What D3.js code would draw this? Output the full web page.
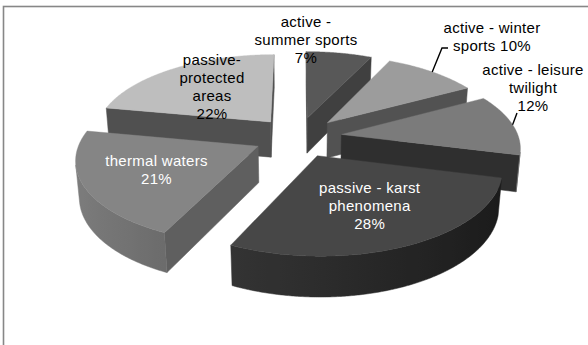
<!DOCTYPE html>
<html>
<head>
<meta charset="utf-8">
<script src="https://cdn.jsdelivr.net/npm/d3@7"></script>
<style>
  html, body { margin: 0; padding: 0; background: #fff; }
  svg { display: block; }
</style>
</head>
<body>
<svg id="chart" width="588" height="345"></svg>
<script>
// Tourism offer structure (shares in %)
const categories = [
  "active - summer sports",
  "active - winter sports",
  "active - leisure twilight",
  "passive - karst phenomena",
  "thermal waters",
  "passive-protected areas"
];
const shares = [7, 10, 12, 28, 21, 22];

// Data label lines; {p} is replaced by the share
const labelLines = [
  ["active -", "summer sports", "{p}"],
  ["active - winter", "sports {p}"],
  ["active - leisure", "twilight", "{p}"],
  ["passive - karst", "phenomena", "{p}"],
  ["thermal waters", "{p}"],
  ["passive-", "protected", "areas", "{p}"]
];

// Slice styling
const topFill   = ["#585858", "#9c9c9c", "#7b7b7b", "#474747", "#858585", "#bebebe"];
const wallFill  = ["#404040", "#525252", "#2f2f2f", "#2a2a2a", "#5f5f5f", "#505050"];
const rimLight  = ["#4a4a4a", "#8a8a8a", "#747474", "#3e3e3e", "#7e7e7e", "#9a9a9a"];
const rimDark   = ["#3a3a3a", "#6a6a6a", "#6c6c6c", "#1a1a1a", "#3f3f3f", "#7a7a7a"];
const textFill  = ["#000", "#000", "#000", "#fff", "#fff", "#000"];
// label placement: null = inside the slice, otherwise [x, y of first line]
const labelPlace = [[306, 22], [492, 28], [533, 70], null, null, [212, 60]];

// 3-D view
const view = { cx: 298, cy: 137, radius: 177, explode: 44, height: 41, tilt: 27.1, eye: 1127 };
const sinT = Math.sin(view.tilt * Math.PI / 180);
const cosT = Math.cos(view.tilt * Math.PI / 180);
const camera = [0, view.eye * sinT, -view.eye * cosT];

// world: X right, Y up, Z away from the viewer
function project(X, Y, Z) {
  const g = view.eye / (view.eye + Z * cosT - Y * sinT);
  return [view.cx + X * g, view.cy - (Z * sinT + Y * cosT) * g];
}
function facing(n, p) {
  return n[0] * (camera[0] - p[0]) + n[1] * (camera[1] - p[1]) + n[2] * (camera[2] - p[2]) > 0;
}

const svg = d3.select("#chart");
const defs = svg.append("defs");
const font = "'Liberation Sans', Arial, sans-serif";

svg.append("rect")
  .attr("x", 3.5).attr("y", 6.5)
  .attr("width", 640).attr("height", 420)
  .attr("fill", "#fff")
  .attr("stroke", "#878787")
  .attr("stroke-width", 1.6);

const pie = d3.pie().sort(null).value(d => d).startAngle(0).endAngle(2 * Math.PI);
const slices = pie(shares).map((a, i) => {
  const m = (a.startAngle + a.endAngle) / 2;
  return { i, a0: a.startAngle, a1: a.endAngle, m,
           ox: view.explode * Math.sin(m), oz: view.explode * Math.cos(m) };
});

function world(s, ang, r, Y) {
  return [s.ox + r * Math.sin(ang), Y, s.oz + r * Math.cos(ang)];
}
function pt(s, ang, r, Y) {
  const w = world(s, ang, r, Y);
  return project(w[0], w[1], w[2]);
}

const line = d3.line();
const R = view.radius, H = view.height;
const step = Math.PI / 360;

// back to front
const order = slices.slice().sort((p, q) => (q.oz + 0.5 * R * Math.cos(q.m)) - (p.oz + 0.5 * R * Math.cos(p.m)));
const gPie = svg.append("g");

order.forEach(s => {
  const g = gPie.append("g");
  // radial walls
  [[s.a0, s.a0 - Math.PI / 2], [s.a1, s.a1 + Math.PI / 2]].forEach(([ang, nAng]) => {
    const n = [Math.sin(nAng), 0, Math.cos(nAng)];
    const mid = world(s, ang, R / 2, -H / 2);
    if (!facing(n, mid)) return;
    const poly = [pt(s, 0, 0, 0), pt(s, ang, R, 0), pt(s, ang, R, -H), pt(s, 0, 0, -H)];
    g.append("path").attr("d", line(poly) + "Z")
      .attr("fill", wallFill[s.i]).attr("stroke", wallFill[s.i]).attr("stroke-width", 0.5);
  });

  // outer rim: contiguous runs of camera-facing angles, shaded with a gradient
  const nSeg = Math.max(2, Math.ceil((s.a1 - s.a0) / step));
  const da = (s.a1 - s.a0) / nSeg;
  const runs = [];
  let cur = null;
  for (let k = 0; k < nSeg; k++) {
    const bm = s.a0 + (k + 0.5) * da;
    const ok = facing([Math.sin(bm), 0, Math.cos(bm)], world(s, bm, R, -H / 2));
    if (ok) {
      if (!cur) { cur = [s.a0 + k * da]; runs.push(cur); }
      cur.push(s.a0 + (k + 1) * da);
    } else cur = null;
  }
  const shade = d3.interpolateRgb(rimLight[s.i], rimDark[s.i]);
  runs.forEach((angs, j) => {
    const topPts = angs.map(a => pt(s, a, R, 0));
    const botPts = angs.map(a => pt(s, a, R, -H)).reverse();
    const xs = topPts.map(p => p[0]);
    const x1 = xs[0], x2 = xs[xs.length - 1];
    let fill;
    if (Math.abs(x2 - x1) < 1) {
      fill = shade((Math.sin(angs[Math.floor(angs.length / 2)]) + 1) / 2);
    } else {
      const id = `rim-${s.i}-${j}`;
      const grad = defs.append("linearGradient").attr("id", id)
        .attr("gradientUnits", "userSpaceOnUse")
        .attr("x1", x1).attr("y1", 0).attr("x2", x2).attr("y2", 0);
      angs.forEach((a, k) => {
        if (k % 6 && k !== angs.length - 1) return;
        grad.append("stop")
          .attr("offset", Math.max(0, Math.min(1, (xs[k] - x1) / (x2 - x1))))
          .attr("stop-color", shade((Math.sin(a) + 1) / 2));
      });
      fill = `url(#${id})`;
    }
    g.append("path").attr("d", line(topPts.concat(botPts)) + "Z")
      .attr("fill", fill).attr("stroke", fill).attr("stroke-width", 0.5);
  });

  // top face
  const top = [pt(s, 0, 0, 0)];
  for (let k = 0; k <= nSeg; k++) top.push(pt(s, s.a0 + k * da, R, 0));
  g.append("path").attr("d", line(top) + "Z")
    .attr("fill", topFill[s.i]).attr("stroke", topFill[s.i]).attr("stroke-width", 0.4);
});

// leader lines for the labels standing outside their slices
const leaders = [
  { i: 1, from: [[448, 48], [442, 48]] },
  { i: 2, from: [[517, 113]] }
];
leaders.forEach(l => {
  const s = slices[l.i];
  const end = pt(s, s.m, R, 0);
  svg.append("path").attr("d", line(l.from.concat([end])))
    .attr("fill", "none").attr("stroke", "#000").attr("stroke-width", 1.4);
});

// data labels
const lineGap = 18;
slices.forEach(s => {
  const lines = labelLines[s.i].map(t => t.replace("{p}", shares[s.i] + "%"));
  let x, y0;
  if (labelPlace[s.i]) {
    [x, y0] = labelPlace[s.i];
  } else {
    const c = pt(s, s.m, 0.6 * R, 0);
    x = c[0];
    y0 = c[1] - (lines.length - 1) * lineGap / 2;
  }
  const t = svg.append("text")
    .attr("font-family", font).attr("font-size", 15)
    .attr("letter-spacing", 0.3)
    .attr("fill", textFill[s.i]).attr("text-anchor", "middle");
  lines.forEach((txt, k) => {
    t.append("tspan").attr("x", x).attr("y", y0 + k * lineGap + 5).text(txt);
  });
});
</script>
</body>
</html>
